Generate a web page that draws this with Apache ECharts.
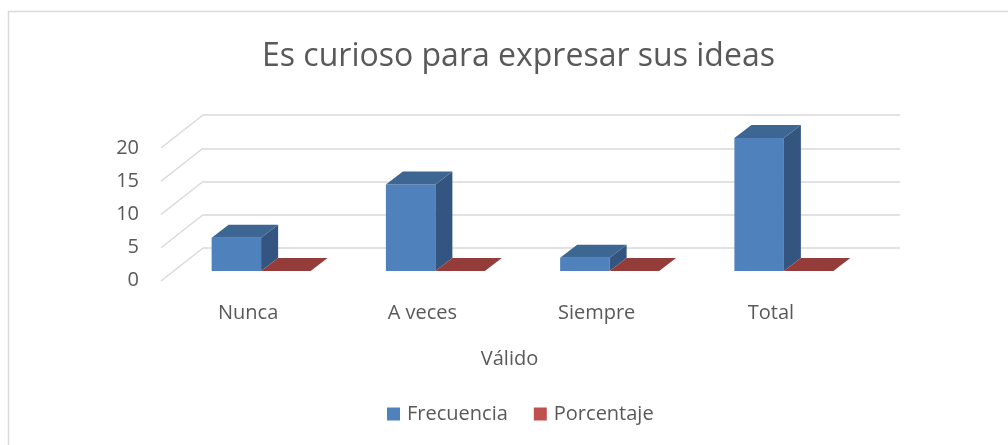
<!DOCTYPE html>
<html>
<head>
<meta charset="utf-8">
<script src="https://cdn.jsdelivr.net/npm/echarts@6/dist/echarts.min.js"></script>
<style>
html, body { margin: 0; padding: 0; background: #fff; }
#chart { width: 1008px; height: 445px; }
</style>
</head>
<body>
<div id="chart"></div>
<script>
const categories = ['Nunca', 'A veces', 'Siempre', 'Total'];
const frecuencia = [5, 13, 2, 20];
const porcentaje = [0, 0, 0, 0];
const yTicks = [0, 5, 10, 15, 20];

const FONT = 'Open Sans';
const TEXT = '#595959';
const GRID_LINE = '#d9d9d9';

// oblique depth used for the bars (top and side faces)
const DEPTH_X = 17, DEPTH_Y = -13;
// offset from the back wall to the front edge of the floor
const WALL_X = -42, WALL_Y = 33;

let myChart = echarts.init(document.getElementById('chart'));

function boxItem(faces, side) {
    return function (params, api) {
        const idx = api.value(0);
        const val = api.value(1);
        const base = api.coord([idx, 0]);
        const top = api.coord([idx, val]);
        const w = api.size([1, 0])[0] * 0.284;
        const x0 = side < 0 ? base[0] - w : base[0];
        const x1 = x0 + w;
        const y0 = top[1], yb = base[1];
        const kids = [];
        if (yb - y0 > 0.5) {
            kids.push({
                type: 'rect',
                shape: { x: x0, y: y0, width: w, height: yb - y0 },
                style: { fill: faces[0] }
            });
            kids.push({
                type: 'polygon',
                shape: { points: [[x1, y0], [x1 + DEPTH_X, y0 + DEPTH_Y], [x1 + DEPTH_X, yb + DEPTH_Y], [x1, yb]] },
                style: { fill: faces[2] }
            });
        }
        kids.push({
            type: 'polygon',
            shape: { points: [[x0, y0], [x0 + DEPTH_X, y0 + DEPTH_Y], [x1 + DEPTH_X, y0 + DEPTH_Y], [x1, y0]] },
            style: { fill: faces[1] }
        });
        return { type: 'group', children: kids };
    };
}

let option = {
    animation: false,
    textStyle: { fontFamily: FONT },
    title: {
        text: 'Es curioso para expresar sus ideas',
        left: 257,
        top: 36,
        textStyle: { fontFamily: FONT, fontSize: 32, fontWeight: 'normal', color: TEXT }
    },
    legend: {
        left: 382,
        top: 399,
        itemWidth: 13,
        itemHeight: 13,
        itemGap: 26,
        icon: 'rect',
        data: ['Frecuencia', 'Porcentaje'],
        textStyle: { fontFamily: FONT, fontSize: 20, color: TEXT, padding: [0, 0, 0, 2] }
    },
    graphic: [{
        type: 'rect',
        shape: { x: 8.5, y: 11.5, width: 1100, height: 600 },
        style: { fill: 'none', stroke: GRID_LINE, lineWidth: 1.5 },
        silent: true
    }],
    grid: [
        // back wall
        { left: 203, right: 108, top: 115, bottom: 197 },
        // plane of the bars
        { left: 174, right: 137, top: 138, bottom: 174 },
        // front edge (labels)
        { left: 161, right: 150, top: 148, bottom: 165 }
    ],
    xAxis: [
        { gridIndex: 0, type: 'category', data: categories, show: false },
        { gridIndex: 1, type: 'category', data: categories, show: false },
        {
            gridIndex: 2, type: 'category', data: categories,
            axisLine: { show: false }, axisTick: { show: false },
            axisLabel: { fontFamily: FONT, fontSize: 20, color: TEXT, margin: 23 },
            name: 'Válido', nameLocation: 'middle', nameGap: 69,
            nameTextStyle: { fontFamily: FONT, fontSize: 20, color: TEXT }
        }
    ],
    yAxis: [
        {
            gridIndex: 0, type: 'value', min: 0, max: 20, interval: 5,
            axisLabel: { show: false }, axisLine: { show: false }, axisTick: { show: false },
            splitLine: { lineStyle: { color: GRID_LINE, width: 1.5 } }
        },
        {
            gridIndex: 1, type: 'value', min: 0, max: 20, interval: 5,
            show: false, splitLine: { show: false }
        },
        {
            gridIndex: 2, type: 'value', min: 0, max: 20, interval: 5,
            axisLine: { show: false }, axisTick: { show: false }, splitLine: { show: false },
            axisLabel: { fontFamily: FONT, fontSize: 20, color: TEXT, margin: 22, padding: [4, 0, 0, 0] }
        }
    ],
    series: [
        {
            // side wall gridlines running from the front edge to the back wall
            type: 'custom',
            xAxisIndex: 0, yAxisIndex: 0,
            silent: true,
            data: yTicks.map(v => [0, v]),
            renderItem: function (params, api) {
                const p = api.coord([0, api.value(1)]);
                const x = params.coordSys.x;
                return {
                    type: 'line',
                    shape: { x1: x + WALL_X, y1: p[1] + WALL_Y, x2: x, y2: p[1] },
                    style: { stroke: GRID_LINE, lineWidth: 1.5 }
                };
            }
        },
        {
            name: 'Frecuencia',
            type: 'custom',
            xAxisIndex: 1, yAxisIndex: 1,
            itemStyle: { color: '#4f81bd' },
            data: frecuencia.map((v, i) => [i, v]),
            renderItem: boxItem(['#4f81bd', '#3d6693', '#335580'], -1)
        },
        {
            name: 'Porcentaje',
            type: 'custom',
            xAxisIndex: 1, yAxisIndex: 1,
            itemStyle: { color: '#c0504d' },
            data: porcentaje.map((v, i) => [i, v]),
            renderItem: boxItem(['#c0504d', '#943c3a', '#7d3230'], 1)
        }
    ]
};
myChart.setOption(option);
</script>
</body>
</html>
